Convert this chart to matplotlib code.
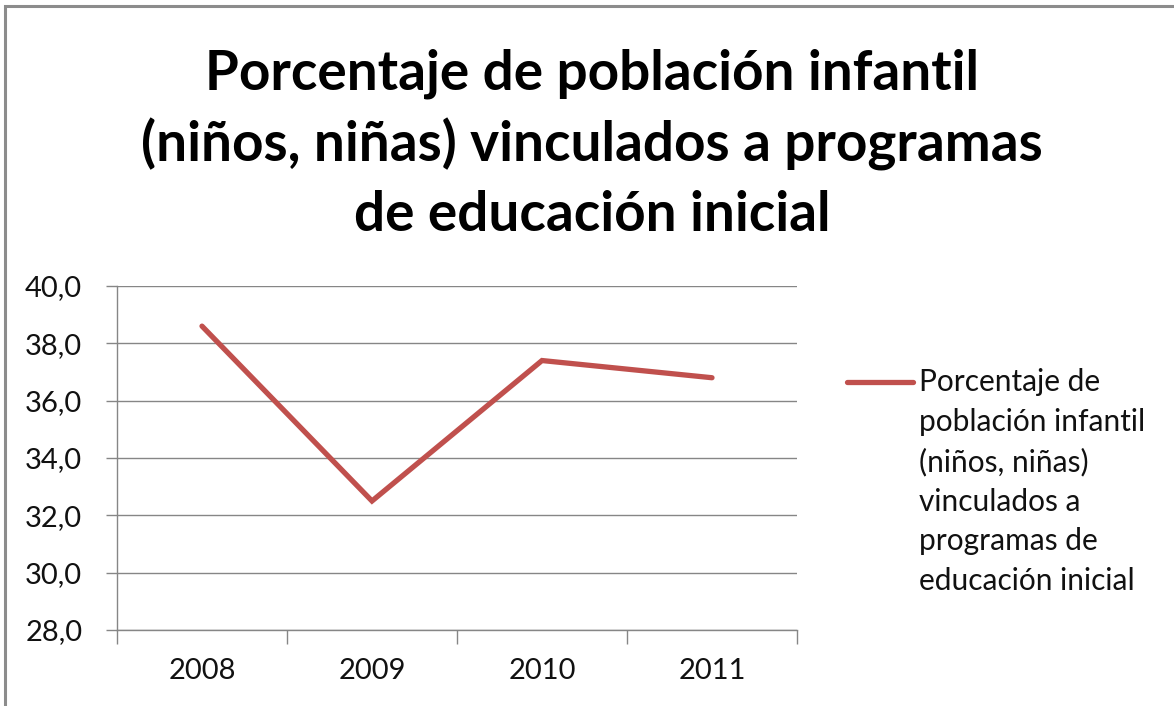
import matplotlib
matplotlib.use("Agg")
import matplotlib.pyplot as plt
from matplotlib.patches import Rectangle
from matplotlib.ticker import FuncFormatter, FixedLocator

years = ["2008", "2009", "2010", "2011"]
values = [38.6, 32.5, 37.4, 36.8]
series_label = "Porcentaje de\npoblación infantil\n(niños, niñas)\nvinculados a\nprogramas de\neducación inicial"
title_text = "Porcentaje de población infantil\n(niños, niñas) vinculados a programas\nde educación inicial"
yticks = [28, 30, 32, 34, 36, 38, 40]

plt.rcParams['font.family'] = ['Lato', 'DejaVu Sans']

W, H = 1174, 706
DPI = 100
fig = plt.figure(figsize=(W / DPI, H / DPI), dpi=DPI)
fig.patch.set_facecolor("white")

# outer chart border (top & left visible)
fig.patches.append(Rectangle((5 / W, -0.05), 1.2, 1 - 5 / H + 0.05 - 0.0015,
                             transform=fig.transFigure, fill=False,
                             edgecolor="#8c8c8c", linewidth=2.2))

ax = fig.add_axes([117 / W, 1 - 630 / H, 680 / W, 344 / H])
x = list(range(len(years)))
ax.plot(x, values, color="#C0504D", linewidth=3.8, solid_capstyle="round",
        solid_joinstyle="miter", label=series_label, zorder=3)

ax.set_xlim(-0.5, len(years) - 0.5)
ax.set_ylim(28, 40)
ax.yaxis.set_major_locator(FixedLocator(yticks))
ax.yaxis.set_major_formatter(FuncFormatter(lambda v, p: f"{v:.1f}".replace(".", ",")))
ax.grid(axis="y", color="#868686", linewidth=1.0)
ax.set_axisbelow(True)

ax.set_xticks([i - 0.5 for i in range(len(years) + 1)], minor=False)
ax.set_xticklabels([""] * (len(years) + 1))
ax.set_xticks(x, minor=True)
ax.set_xticklabels(years, minor=True)
ax.tick_params(axis="x", which="major", length=10, width=1, color="#868686", direction="out")
ax.tick_params(axis="x", which="minor", length=0, pad=20, labelsize=21, labelcolor="#111111")
ax.tick_params(axis="y", length=8, width=1, color="#868686", pad=17, labelsize=21, labelcolor="#111111")

for side in ["top", "right"]:
    ax.spines[side].set_visible(False)
for side in ["left", "bottom"]:
    ax.spines[side].set_color("#868686")
    ax.spines[side].set_linewidth(1.0)

fig.text(592 / W, 1 - 144 / H, title_text, ha="center", va="center",
         fontsize=39.5, fontweight="bold", color="black", linespacing=1.45)

leg = fig.legend(loc="upper left", bbox_to_anchor=(847 / W, 1 - 368 / H),
                 frameon=False, fontsize=21.5, handlelength=2.2, handletextpad=0.2,
                 labelspacing=0, borderpad=0, borderaxespad=0)
for t in leg.get_texts():
    t.set_linespacing(1.5)
    t.set_color("#111111")

# align legend handle with the first line of its label (as in the reference)
fig.canvas.draw()
handle = leg.legend_handles[0]
txt = leg.get_texts()[0]
tb = txt.get_window_extent()
n_lines = series_label.count("\n") + 1
line_h = tb.height / n_lines
target_y = tb.y1 - line_h * 0.38
tr = handle.get_transform()
xd = handle.get_xdata()
cur = tr.transform((xd[0], handle.get_ydata()[0]))
new_y = tr.inverted().transform((cur[0], target_y))[1]
handle.set_ydata([new_y] * len(xd))

fig.savefig("out.png", dpi=DPI, facecolor="white")
